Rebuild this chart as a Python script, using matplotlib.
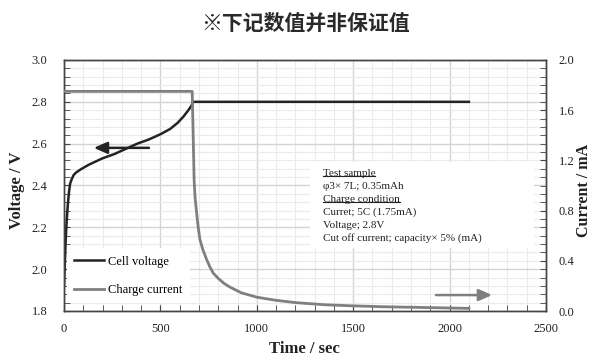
import matplotlib
matplotlib.use("Agg")
import matplotlib.pyplot as plt
from matplotlib.ticker import MultipleLocator
from matplotlib.patches import Rectangle
from matplotlib.lines import Line2D

# cell voltage (time in s, voltage in V)
volt_t = [0, 4, 8, 12, 16, 20, 26, 32, 40, 50, 60, 75, 92, 130, 200, 260,
          320, 380, 440, 500, 550, 590, 620, 645, 660, 670, 2100]
volt_v = [1.92, 2.02, 2.12, 2.20, 2.26, 2.31, 2.37, 2.41, 2.43, 2.45, 2.46,
          2.47, 2.48, 2.50, 2.53, 2.55, 2.575, 2.60, 2.62, 2.645, 2.67, 2.70,
          2.73, 2.76, 2.78, 2.80, 2.80]

# charge current (time in s, current in mA)
curr_t = [0, 665, 670, 675, 680, 688, 695, 705, 720, 740, 757, 775, 800,
          830, 861, 920, 1000, 1100, 1207, 1350, 1483, 1650, 1829, 2000, 2100]
curr_i = [1.75, 1.75, 1.40, 1.04, 0.90, 0.78, 0.68, 0.57, 0.49, 0.41, 0.35,
          0.30, 0.26, 0.22, 0.19, 0.145, 0.11, 0.085, 0.066, 0.05, 0.042,
          0.034, 0.029, 0.024, 0.021]

note_lines = ["Test sample", "\u03c63\u00d7 7L; 0.35mAh", "Charge condition",
              "Curret; 5C (1.75mA)", "Voltage; 2.8V",
              "Cut off current; capacity\u00d7 5% (mA)"]
underlined = [0, 2]

serif = "Liberation Serif"
plt.rcParams["font.family"] = serif

fig = plt.figure(figsize=(6.03, 3.6), dpi=100)
ax = fig.add_axes([64 / 603, 49 / 360, 482 / 603, 251 / 360])
ax2 = ax.twinx()

ax.set_xlim(0, 2500)
ax.set_ylim(1.8, 3.0)
ax2.set_ylim(0, 2.0)

ax.xaxis.set_major_locator(MultipleLocator(500))
ax.xaxis.set_minor_locator(MultipleLocator(100))
ax.yaxis.set_major_locator(MultipleLocator(0.2))
ax.yaxis.set_minor_locator(MultipleLocator(0.04))
ax2.yaxis.set_major_locator(MultipleLocator(0.4))
ax2.yaxis.set_minor_locator(MultipleLocator(2 / 30))

ax.grid(which="minor", color="#ebebeb", lw=0.8, zorder=0)
ax.grid(which="major", color="#d4d4d4", lw=1.0, zorder=0)
ax.set_axisbelow(True)

for a in (ax, ax2):
    for s in a.spines.values():
        s.set_color("#444444")
        s.set_linewidth(1.0)
ax.tick_params(axis="x", which="both", direction="in", colors="#444444",
               labelcolor="#222222", labelsize=9, pad=9, length=4)
ax.tick_params(axis="y", which="both", direction="in", colors="#444444",
               labelcolor="#222222", labelsize=9, pad=12, length=4)
ax2.tick_params(axis="y", which="both", direction="in", colors="#444444",
                labelcolor="#222222", labelsize=9, pad=9, length=4)
ax.xaxis.set_major_formatter(plt.FuncFormatter(lambda v, p: f"{v:.0f}"))
ax.yaxis.set_major_formatter(plt.FuncFormatter(lambda v, p: f"{v:.1f}"))
ax2.yaxis.set_major_formatter(plt.FuncFormatter(lambda v, p: f"{v:.1f}"))

# white box behind the note
ax.add_patch(Rectangle((0.51, 0.25), 0.465, 0.345, transform=ax.transAxes,
                       facecolor="white", edgecolor="none", zorder=1))

l1, = ax.plot(volt_t, volt_v, color="#232323", lw=1.8, zorder=4,
              label="Cell voltage")
l2, = ax2.plot(curr_t, curr_i, color="#7f7f7f", lw=2.0, zorder=3,
               label="Charge current")

ax.annotate("", xy=(140, 2.58), xytext=(455, 2.58),
            arrowprops=dict(arrowstyle="-|>,head_length=0.8,head_width=0.35",
                            color="#232323", lw=1.8), zorder=5)
ax2.annotate("", xy=(2235, 0.127), xytext=(1915, 0.127),
             arrowprops=dict(arrowstyle="-|>,head_length=0.8,head_width=0.35",
                             color="#7f7f7f", lw=1.8), zorder=5)

leg = ax.legend([l1, l2], ["Cell voltage", "Charge current"],
                loc="lower left", bbox_to_anchor=(0.0, 0.02),
                fontsize=9, frameon=True, fancybox=False, framealpha=1,
                edgecolor="none", facecolor="white", labelspacing=1.3,
                handlelength=2.4, handletextpad=0.3, borderpad=0.6,
                borderaxespad=0.2)
leg.set_zorder(2)

y0 = (311 - 173) / 251
dy = 13 / 251
texts = []
for i, line in enumerate(note_lines):
    t = ax.text(0.537, y0 - i * dy, line, transform=ax.transAxes,
                fontsize=8, va="center", ha="left", color="#222222",
                zorder=6)
    texts.append(t)

fig.text(305 / 603, 1 - 23 / 360, "\u203b下记数值并非保证值",
         family=["Noto Sans CJK SC", "DejaVu Sans"], fontsize=15,
         weight="bold", ha="center", va="center", color="#2a2a2a")
fig.text(17 / 603, 1 - 190 / 360, "Voltage / V", rotation=90, fontsize=12,
         weight="bold", ha="center", va="center", color="#222222")
fig.text(584 / 603, 1 - 190 / 360, "Current / mA", rotation=90, fontsize=11.5,
         weight="bold", ha="center", va="center", color="#222222")
fig.text(304 / 603, 1 - 349 / 360, "Time / sec", fontsize=12,
         weight="bold", ha="center", va="center", color="#222222")

# underline the headings of the note
fig.canvas.draw()
r = fig.canvas.get_renderer()
for i in underlined:
    bb = texts[i].get_window_extent(r)
    yy = bb.y0 + 1.5
    fig.add_artist(Line2D([bb.x0, bb.x1], [yy, yy], transform=None,
                          color="#222222", lw=0.8))

fig.savefig("out.png", dpi=100)
